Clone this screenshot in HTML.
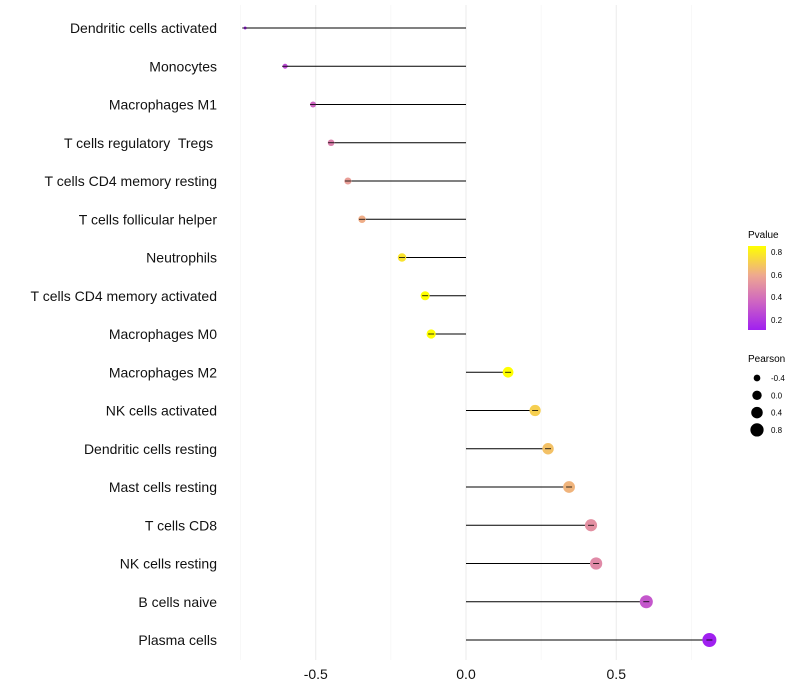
<!DOCTYPE html>
<html><head><meta charset="utf-8"><style>
body{margin:0;background:#fff;font-family:"Liberation Sans",sans-serif;}
svg{display:block}
text{white-space:pre}
</style></head><body>
<svg id="chart" width="800" height="700">
<defs><linearGradient id="pg" x1="0" y1="1" x2="0" y2="0">
<stop offset="0" stop-color="#A020F0"/><stop offset="0.35" stop-color="#D068C0"/>
<stop offset="0.65" stop-color="#EEA890"/><stop offset="1" stop-color="#FFFF00"/></linearGradient></defs>
<g id="grid"></g><g id="marks"></g><g id="axes"></g>
<g>
<text x="748" y="238" font-size="10" fill="#000">Pvalue</text>
<rect x="748" y="246" width="18" height="84" fill="url(#pg)"/>
<text x="771" y="255" font-size="8">0.8</text><text x="771" y="278" font-size="8">0.6</text>
<text x="771" y="300" font-size="8">0.4</text><text x="771" y="323" font-size="8">0.2</text>
</g>
<g id="sizeleg">
<text x="748" y="362" font-size="10">Pearson</text>
</g>
</svg>
<script>
const categories=["Dendritic cells activated","Monocytes","Macrophages M1","T cells regulatory  Tregs ","T cells CD4 memory resting","T cells follicular helper","Neutrophils","T cells CD4 memory activated","Macrophages M0","Macrophages M2","NK cells activated","Dendritic cells resting","Mast cells resting","T cells CD8","NK cells resting","B cells naive","Plasma cells"];
const pearson=[-0.735,-0.602,-0.509,-0.449,-0.393,-0.346,-0.213,-0.136,-0.116,0.14,0.23,0.273,0.343,0.416,0.433,0.6,0.81];
const pvalue=[0.12,0.25,0.35,0.45,0.55,0.6,0.76,0.87,0.87,0.86,0.7,0.66,0.62,0.5,0.48,0.3,0.1];
const xTicks=[-0.5,0,0.5];
const xTickLabels=["-0.5","0.0","0.5"];
const sizeLegend=[-0.4,0,0.4,0.8];
const NS="http://www.w3.org/2000/svg";
const x=v=>466+v*300.5;
const y=i=>28+i*38.25;
const r=v=>Math.sqrt(Math.max(1,24.5+30.3*v));
const stops=[[0,[160,32,240]],[0.35,[208,104,192]],[0.65,[238,168,144]],[1,[255,255,0]]];
function col(p){let t=(p-0.103)/(0.844-0.103);t=Math.max(0,Math.min(1,t));
for(let k=1;k<stops.length;k++){if(t<=stops[k][0]){const a=stops[k-1],b=stops[k],f=(t-a[0])/(b[0]-a[0]);
return "rgb("+a[1].map((c,j)=>Math.round(c+(b[1][j]-c)*f)).join(",")+")";}}return "rgb(255,255,0)";}
function mk(tag,at,parent){const e=document.createElementNS(NS,tag);for(const k in at)e.setAttribute(k,at[k]);document.getElementById(parent).appendChild(e);return e;}
[-0.75,-0.25,0.25,0.75].forEach(v=>{const l=mk("line",{x1:x(v),x2:x(v),y1:5,y2:660,stroke:"#f2f2f2","stroke-width":0.6},"grid");

});
xTicks.forEach((v,i)=>{const l=mk("line",{x1:x(v),x2:x(v),y1:5,y2:660,stroke:"#ebebeb","stroke-width":1},"grid");


const t=mk("text",{x:x(v),y:679,"text-anchor":"middle","font-size":14,fill:"#111"},"axes");t.textContent=xTickLabels[i];

});
categories.forEach((c,i)=>{
const t=mk("text",{x:217,y:y(i)+5,"text-anchor":"end","font-size":14,fill:"#111"},"axes");t.textContent=c;


const l=mk("line",{x1:x(0),x2:x(pearson[i]),y1:y(i),y2:y(i),stroke:"#000","stroke-width":1},"marks");


const d=mk("circle",{cx:x(pearson[i]),cy:y(i),r:r(pearson[i]),fill:col(pvalue[i])},"marks");


const l2=mk("line",{x1:x(pearson[i])-3,x2:x(pearson[i])+3,y1:y(i),y2:y(i),stroke:"#000","stroke-width":0.8},"marks");

});
sizeLegend.forEach((v,i)=>{const cy=378+i*17.3;
const c=mk("circle",{cx:757,cy:cy,r:r(v)*0.95,fill:"#000"},"sizeleg");


const t=mk("text",{x:771,y:cy+3,"font-size":8},"sizeleg");t.textContent=(v===0?"0.0":v.toFixed(1));

});
</script>
</body></html>
